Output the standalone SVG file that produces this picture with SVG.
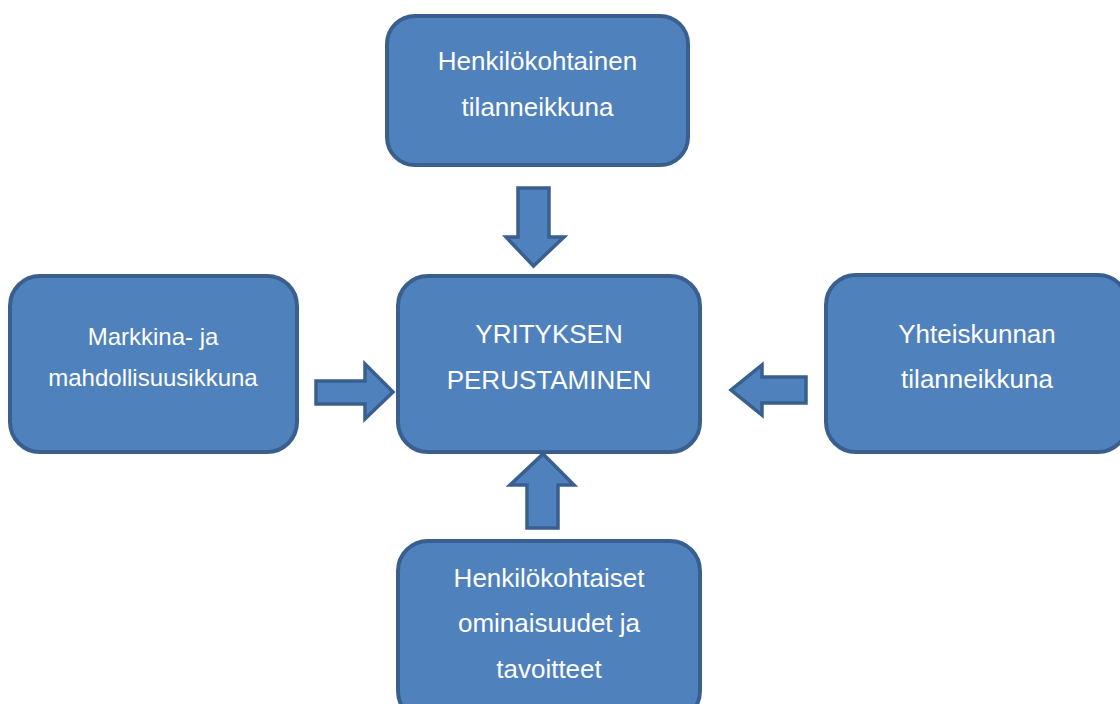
<svg xmlns="http://www.w3.org/2000/svg" width="1120" height="704" viewBox="0 0 1120 704">
  <style>
    .box { fill: #4F81BD; stroke: #3A5F8E; stroke-width: 4; }
    .arrow { fill: #4F81BD; stroke: #3A5F8E; stroke-width: 3.5; stroke-linejoin: miter; }
    .label { fill: #FFFFFF; font-family: "Liberation Sans", Arial, sans-serif; font-size: 26px; text-anchor: middle; }
    .small { font-size: 24px; }
  </style>
  <rect width="1120" height="704" fill="#FFFFFF"/>

  <!-- block arrows pointing into the central box -->
  <g id="connectors">
    <path class="arrow" d="M518,188 L549,188 L549,237 L564,237 L533.5,266 L506,237 L518,237 Z"/>
    <path class="arrow" d="M316,381 L365,381 L365,364 L393,392 L365,419 L365,404 L316,404 Z"/>
    <path class="arrow" d="M806,377 L762,377 L762,365 L731,390 L762,415 L762,403 L806,403 Z"/>
    <path class="arrow" d="M527,528 L558,528 L558,485 L574,485 L543,454 L510,485 L527,485 Z"/>
  </g>

  <g id="node-top">
    <rect class="box" x="387" y="16" width="301" height="149" rx="28"/>
    <text class="label" x="537.5" y="70">Henkilökohtainen</text>
    <text class="label" x="537.5" y="116">tilanneikkuna</text>
  </g>

  <g id="node-center">
    <rect class="box" x="398" y="276" width="302" height="176" rx="30"/>
    <text class="label" x="549" y="343">YRITYKSEN</text>
    <text class="label" x="549" y="389">PERUSTAMINEN</text>
  </g>

  <g id="node-left">
    <rect class="box" x="10" y="276" width="287" height="176" rx="30"/>
    <text class="label small" x="153" y="345">Markkina- ja</text>
    <text class="label small" x="153" y="386">mahdollisuusikkuna</text>
  </g>

  <g id="node-right">
    <rect class="box" x="826" y="275" width="302" height="177" rx="30"/>
    <text class="label" x="977" y="343">Yhteiskunnan</text>
    <text class="label" x="977" y="388">tilanneikkuna</text>
  </g>

  <g id="node-bottom">
    <rect class="box" x="398" y="541" width="302" height="180" rx="30"/>
    <text class="label" x="549" y="587">Henkilökohtaiset</text>
    <text class="label" x="549" y="632">ominaisuudet ja</text>
    <text class="label" x="549" y="678">tavoitteet</text>
  </g>
</svg>
